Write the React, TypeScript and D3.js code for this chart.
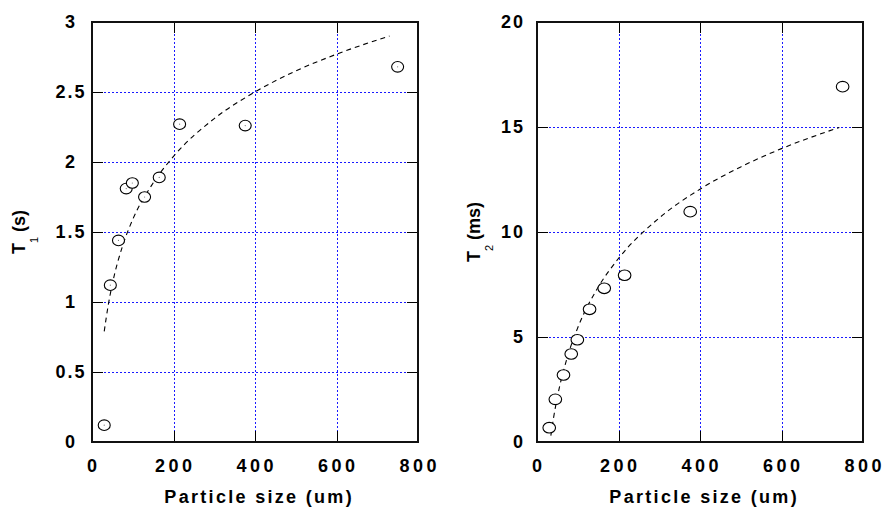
import * as d3 from "d3";
import React, { useEffect, useRef } from "react";

// measured points (particle size in um)
const particleSize = [30, 45, 65, 84, 99, 129, 165, 215, 376, 750];
const t1Values = [0.12, 1.12, 1.44, 1.81, 1.85, 1.75, 1.89, 2.27, 2.26, 2.68];
const t2Values = [0.68, 2.03, 3.19, 4.19, 4.87, 6.32, 7.32, 7.94, 10.97, 16.92];

// dashed fit curves
const fitSizeT1 = [30, 40, 50, 75, 100, 150, 200, 300, 400, 500, 600, 730];
const fitT1 = [0.79, 0.98, 1.13, 1.4, 1.59, 1.85, 2.04, 2.31, 2.5, 2.65, 2.77, 2.9];
const fitSizeT2 = [34, 40, 50, 75, 100, 150, 200, 300, 400, 500, 600, 742];
const fitT2 = [0.3, 1.08, 2.14, 4.07, 5.44, 7.37, 8.74, 10.67, 12.04, 13.1, 13.97, 14.98];

const xTicks = [0, 200, 400, 600, 800];
const t1Ticks = [0, 0.5, 1, 1.5, 2, 2.5, 3];
const t2Ticks = [0, 5, 10, 15, 20];

const FONT = "'Liberation Sans', Arial, sans-serif";
const GRID = "#1a1aff";

type Panel = {
  left: number;
  right: number;
  top: number;
  bottom: number;
  yMax: number;
  yTicks: number[];
  ys: number[];
  fitX: number[];
  fitY: number[];
  yLabel: string;
  ySub: string;
  yUnit: string;
  yLabelX: number;
  yTickX: number;
  yTickAnchor: string;
  dot: boolean;
  rx: number;
};

// spaced-out characters without trailing space (dx per character)
const spaced = (s: string, gap: number) =>
  s.split("").map((c, i) => (i === 0 ? 0 : gap)).join(" ");

const crisp = (v: number) => Math.round(v) + 0.5;

const drawPanel = (svg: d3.Selection<SVGSVGElement, unknown, null, undefined>, p: Panel) => {
  const x = d3.scaleLinear().domain([0, 800]).range([p.left, p.right]);
  const y = d3.scaleLinear().domain([0, p.yMax]).range([p.bottom, p.top]);
  const g = svg.append("g");
  const tickLen = 11;

  // grid
  xTicks.slice(1, -1).forEach((t) => {
    g.append("line")
      .attr("x1", crisp(x(t))).attr("x2", crisp(x(t)))
      .attr("y1", p.top).attr("y2", p.bottom)
      .attr("stroke", GRID).attr("stroke-width", 1).attr("stroke-dasharray", "2,2");
  });
  p.yTicks.slice(1, -1).forEach((t) => {
    g.append("line")
      .attr("x1", p.left).attr("x2", p.right)
      .attr("y1", crisp(y(t))).attr("y2", crisp(y(t)))
      .attr("stroke", GRID).attr("stroke-width", 1).attr("stroke-dasharray", "2,2");
  });

  // inward ticks
  xTicks.slice(1, -1).forEach((t) => {
    const xx = crisp(x(t));
    g.append("line").attr("x1", xx).attr("x2", xx).attr("y1", p.bottom).attr("y2", p.bottom - tickLen).attr("stroke", "#000");
    g.append("line").attr("x1", xx).attr("x2", xx).attr("y1", p.top).attr("y2", p.top + tickLen).attr("stroke", "#000");
  });
  p.yTicks.slice(1, -1).forEach((t) => {
    const yy = crisp(y(t));
    g.append("line").attr("x1", p.left).attr("x2", p.left + tickLen).attr("y1", yy).attr("y2", yy).attr("stroke", "#000");
    g.append("line").attr("x1", p.right).attr("x2", p.right - tickLen).attr("y1", yy).attr("y2", yy).attr("stroke", "#000");
  });

  // frame
  g.append("rect")
    .attr("x", p.left).attr("y", p.top)
    .attr("width", p.right - p.left).attr("height", p.bottom - p.top)
    .attr("fill", "none").attr("stroke", "#111").attr("stroke-width", 2);

  // fit curve
  const line = d3
    .line<number>()
    .x((d, i) => x(p.fitX[i]))
    .y((d) => y(d))
    .curve(d3.curveMonotoneX);
  g.append("path")
    .attr("d", line(p.fitY))
    .attr("fill", "none")
    .attr("stroke", "#000")
    .attr("stroke-width", 1.1)
    .attr("stroke-dasharray", "5,4");

  // points
  p.ys.forEach((v, i) => {
    g.append("ellipse")
      .attr("cx", x(particleSize[i])).attr("cy", y(v))
      .attr("rx", p.rx).attr("ry", 5.3)
      .attr("fill", "#fff").attr("stroke", "#000").attr("stroke-width", 1.1);
    if (p.dot) {
      g.append("circle").attr("cx", x(particleSize[i])).attr("cy", y(v)).attr("r", 0.6).attr("fill", "#777");
    }
  });

  // x tick labels
  xTicks.forEach((t) => {
    const s = String(t);
    g.append("text")
      .attr("x", x(t))
      .attr("y", 472)
      .attr("dx", spaced(s, 3.5))
      .attr("text-anchor", "middle")
      .style("font-family", FONT).style("font-weight", "bold").style("font-size", "18px")
      .text(s);
  });

  // y tick labels
  p.yTicks.forEach((t) => {
    const s = String(t);
    g.append("text")
      .attr("x", p.yTickX)
      .attr("y", y(t))
      .attr("dy", "0.35em")
      .attr("dx", spaced(s, 2))
      .attr("text-anchor", p.yTickAnchor)
      .style("font-family", FONT).style("font-weight", "bold").style("font-size", "18px")
      .text(s);
  });

  // x axis title
  const title = "Particle size (um)";
  g.append("text")
    .attr("x", (p.left + p.right) / 2 + 3)
    .attr("y", 503)
    .attr("dx", spaced(title, 2.3))
    .attr("text-anchor", "middle")
    .style("font-family", FONT).style("font-weight", "bold").style("font-size", "18px")
    .text(title);

  // y axis title with subscript
  const cy = (p.top + p.bottom) / 2;
  const yt = g.append("text")
    .attr("transform", `translate(${p.yLabelX}, ${cy}) rotate(-90)`)
    .attr("text-anchor", "middle")
    .style("font-family", FONT).style("font-weight", "bold").style("font-size", "18px");
  yt.append("tspan").text(p.yLabel);
  yt.append("tspan").attr("dy", 13).style("font-size", "11px").style("font-weight", "normal").text(p.ySub);
  yt.append("tspan").attr("dy", -13).text(` ${p.yUnit}`);
};

export default function App() {
  const svgRef = useRef<SVGSVGElement>(null);

  useEffect(() => {
    const svg = d3.select(svgRef.current as SVGSVGElement);
    svg.selectAll("*").remove();
    svg.append("rect").attr("width", 882).attr("height", 507).attr("fill", "#fff");

    drawPanel(svg, {
      left: 92, right: 418, top: 22, bottom: 442,
      yMax: 3, yTicks: t1Ticks, ys: t1Values,
      fitX: fitSizeT1, fitY: fitT1,
      yLabel: "T", ySub: "1", yUnit: "(s)", yLabelX: 25,
      yTickX: 70, yTickAnchor: "middle", dot: true, rx: 6,
    });
    drawPanel(svg, {
      left: 537, right: 863, top: 22, bottom: 442,
      yMax: 20, yTicks: t2Ticks, ys: t2Values,
      fitX: fitSizeT2, fitY: fitT2,
      yLabel: "T", ySub: "2", yUnit: "(ms)", yLabelX: 480,
      yTickX: 523, yTickAnchor: "end", dot: false, rx: 6.3,
    });
  }, []);

  return (
    <svg
      ref={svgRef}
      width={882}
      height={507}
      style={{ position: "absolute", left: 0, top: 0 }}
    />
  );
}
